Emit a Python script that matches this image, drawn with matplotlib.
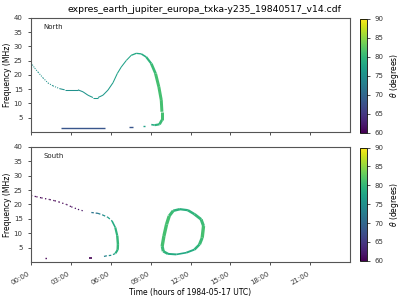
import numpy as np
import matplotlib
matplotlib.use("Agg")
import matplotlib.pyplot as plt
from matplotlib.collections import LineCollection
from matplotlib.colors import Normalize

title = "expres_earth_jupiter_europa_txka-y235_19840517_v14.cdf"
hour_ticks = [0, 3, 6, 9, 12, 15, 18, 21]
hour_labels = ["00:00", "03:00", "06:00", "09:00", "12:00", "15:00", "18:00", "21:00"]

# North hemisphere: time (h), frequency (MHz), theta (deg)
north_early_t = [0.0, 0.28, 0.53, 0.9, 1.28, 1.65, 2.16]
north_early_f = [24.3, 22.4, 21.0, 19.0, 17.2, 16.2, 15.2]
north_early_theta = [75, 75, 75, 75, 75, 75, 75]
north_main_t = [2.16, 2.53, 3.53, 3.91, 4.29, 4.66, 5.04, 5.41, 5.79, 6.17, 6.49, 6.79, 7.17, 7.54,
                7.92, 8.3, 8.67, 9.05, 9.37, 9.62, 9.8, 9.85, 9.85, 9.67, 9.3, 9.05]
north_main_f = [15.2, 14.8, 14.8, 14.1, 12.9, 12.1, 12.1, 12.9, 14.7, 17.3, 20.5, 22.8, 25.1, 26.9,
                27.6, 27.4, 26.3, 24.0, 20.5, 15.8, 11.2, 7.1, 4.2, 2.7, 2.4, 2.6]
north_main_theta = [75, 75, 75, 75, 76, 76, 76, 76, 76, 77, 77, 77, 77, 78,
                    78, 78, 79, 80, 81, 81, 81, 81, 81, 80, 79, 78]
north_low_t = [2.28, 5.54]
north_low_f = [1.5, 1.5]
north_low_theta = [68, 68]
north_dash_t = [7.37, 7.67]
north_dash_f = [1.9, 1.9]
north_dash_theta = [68, 68]
north_dash2_t = [8.4, 8.6]
north_dash2_f = [2.2, 2.2]
north_dash2_theta = [77, 77]

# South hemisphere
south_a_t = [0.0, 0.4, 0.78, 1.4, 1.78, 2.08, 2.66, 3.03, 3.53, 4.04]
south_a_f = [23.1, 22.7, 22.3, 21.7, 21.3, 20.9, 20.0, 19.2, 18.3, 17.6]
south_a_theta = [60, 60, 60, 60, 60, 60, 60, 61, 61, 62]
south_b_t = [4.54, 5.04, 5.41, 5.79, 6.09, 6.34, 6.49, 6.54, 6.52, 6.34, 6.04, 5.66, 5.49]
south_b_f = [17.2, 16.9, 16.3, 15.5, 14.3, 12.0, 9.1, 6.2, 4.2, 2.9, 2.3, 2.1, 1.9]
south_b_theta = [71, 72, 74, 76, 78, 79, 80, 80, 80, 78, 76, 74, 72]
south_loop_t = [11.2, 10.7, 10.4, 10.2, 10.0, 9.87, 9.95, 10.3, 10.93, 11.68, 12.3, 12.68, 12.88,
                12.98, 12.8, 12.3, 11.8, 11.2]
south_loop_f = [18.35, 17.8, 16.0, 13.1, 9.0, 5.5, 3.7, 2.8, 2.6, 3.2, 4.3, 6.1, 8.4,
                12.5, 14.8, 16.6, 18.0, 18.35]
south_loop_theta = [79, 80, 81, 81, 81, 81, 80, 79, 78, 78, 79, 80, 81,
                    81, 80, 80, 79, 79]
south_dots_t = [1.03, 1.33]
south_dots_f = [1.2, 1.2]
south_dots_theta = [60, 60]
south_dash_t = [4.36, 4.59]
south_dash_f = [1.5, 1.5]
south_dash_theta = [60, 60]

cmap = plt.get_cmap("viridis")
norm = Normalize(60, 90)


def add_track(ax, t, f, theta, ls="-", base=0.75):
    pts = np.column_stack([t, f]).reshape(-1, 1, 2)
    segs = np.concatenate([pts[:-1], pts[1:]], axis=1)
    th = np.asarray(theta, dtype=float)
    mid = 0.5 * (th[:-1] + th[1:])
    widths = base + 0.4 * np.clip(mid - 77.5, 0, None)
    lc = LineCollection(segs, cmap=cmap, norm=norm, linewidths=widths, linestyles=ls,
                        capstyle="butt", joinstyle="round")
    lc.set_array(mid)
    ax.add_collection(lc)


fig = plt.figure(figsize=(4, 3), dpi=100)
ax1 = fig.add_axes([0.0775, 0.56, 0.7975, 0.38])
ax2 = fig.add_axes([0.0775, 0.127, 0.7975, 0.383])
cax1 = fig.add_axes([0.9, 0.558, 0.017, 0.38])
cax2 = fig.add_axes([0.9, 0.131, 0.017, 0.377])

add_track(ax1, north_early_t, north_early_f, north_early_theta, ls=(0, (1, 1.2)))
add_track(ax1, north_main_t, north_main_f, north_main_theta)
add_track(ax1, north_low_t, north_low_f, north_low_theta, base=1.0)
add_track(ax1, north_dash_t, north_dash_f, north_dash_theta, base=1.0)
add_track(ax1, north_dash2_t, north_dash2_f, north_dash2_theta, base=1.0)

add_track(ax2, south_a_t, south_a_f, south_a_theta, ls=(0, (1, 2)), base=0.9)
add_track(ax2, south_b_t[:5], south_b_f[:5], south_b_theta[:5], ls=(0, (2, 1.5)), base=0.9)
add_track(ax2, south_b_t[4:9], south_b_f[4:9], south_b_theta[4:9])
add_track(ax2, south_b_t[8:], south_b_f[8:], south_b_theta[8:], ls=(0, (2, 1.5)), base=0.9)
add_track(ax2, south_loop_t, south_loop_f, south_loop_theta, base=1.0)
add_track(ax2, south_dots_t, south_dots_f, south_dots_theta, ls=(0, (1, 2)), base=1.0)
add_track(ax2, south_dash_t, south_dash_f, south_dash_theta, base=1.2)

for ax, name in [(ax1, "North"), (ax2, "South")]:
    ax.set_xlim(0, 24)
    ax.set_ylim(0, 40)
    ax.set_yticks([5, 10, 15, 20, 25, 30, 35, 40])
    ax.set_xticks(hour_ticks)
    ax.tick_params(labelsize=5, length=2.5, width=0.6, colors="#333333")
    ax.set_ylabel("Frequency (MHz)", fontsize=5.5, labelpad=1)
    for sp in ax.spines.values():
        sp.set_color("#555555")
        sp.set_linewidth(0.8)
    ax.text(0.04, 0.9, name, transform=ax.transAxes, fontsize=5, color="#222222")

ax1.set_xticklabels([])
ax2.set_xticklabels(hour_labels, rotation=30, ha="right")
ax2.set_xlabel("Time (hours of 1984-05-17 UTC)", fontsize=5.5, labelpad=2)
fig.suptitle(title, x=0.51, y=0.985, fontsize=6.7)

for cax in [cax1, cax2]:
    cb = fig.colorbar(plt.cm.ScalarMappable(norm=norm, cmap=cmap), cax=cax)
    cb.set_ticks([60, 65, 70, 75, 80, 85, 90])
    cb.ax.tick_params(labelsize=5, length=2, width=0.6, colors="#333333")
    cb.set_label(r"$\theta$ (degrees)", fontsize=5.5, labelpad=3)
    cb.outline.set_linewidth(0.6)

fig.savefig("out.png", dpi=100)
